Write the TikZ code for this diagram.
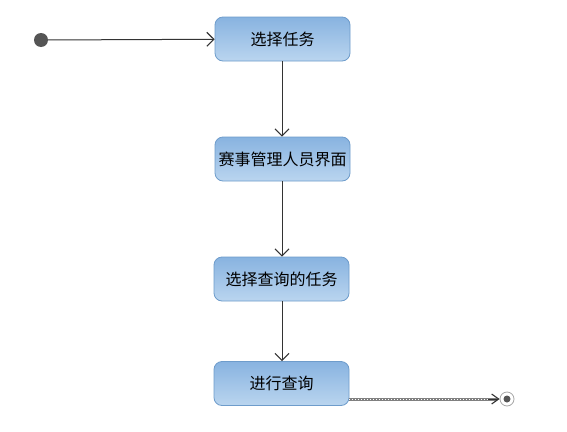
\documentclass[tikz,border=0pt]{standalone}
\usepackage{fontspec}
\newfontfamily\cjk{Noto Sans CJK SC}
\usetikzlibrary{arrows.meta}
\definecolor{boxtop}{HTML}{88B3E0}
\definecolor{boxbot}{HTML}{BAD5EF}
\definecolor{boxline}{HTML}{6E9CCB}
\definecolor{dotc}{HTML}{555555}
\begin{document}
\begin{tikzpicture}[x=1pt,y=-1pt,
  statebox/.style={draw=boxline,line width=0.8pt,rounded corners=8pt,top color=boxtop,bottom color=boxbot,
    minimum width=135pt,minimum height=44pt,inner sep=0pt,font=\cjk\fontsize{16}{18}\selectfont},
  flow/.style={draw=black!80,line width=1pt,-{Straight Barb[length=7pt,width=14pt,line width=1.1pt]}}]
\useasboundingbox (0,0) rectangle (567,431);
\fill[white] (0,0) rectangle (567,431);
\node[circle,fill=dotc,minimum size=14pt,inner sep=0pt] (init) at (41,40) {};
\node[statebox] (s1) at (282.5,39) {选择任务};
\node[statebox] (s2) at (282.5,159) {赛事管理人员界面};
\node[statebox] (s3) at (281.5,279) {选择查询的任务};
\node[statebox] (s4) at (281.5,383.5) {进行查询};
\node[circle,draw=gray!70,line width=0.8pt,fill=white,minimum size=14pt,inner sep=0pt] (fin) at (507,399) {};
\fill[dotc] (fin.center) circle (3.5pt);
\draw[flow] (init) -- (s1);
\draw[flow] (s1.south -| 282,0) -- (s2.north -| 282,0);
\draw[flow] (s2.south -| 282,0) -- (s3.north -| 282,0);
\draw[flow] (s3.south -| 282,0) -- (s4.north -| 282,0);
\coordinate (f0) at (s4.east |- fin);
\draw[draw=gray,line width=3pt] (f0) -- ([xshift=-3pt]fin.west);
\draw[draw=white,line width=1pt,dotted] (f0) -- ([xshift=-3pt]fin.west);
\draw[draw=black!80,line width=1pt,-{Straight Barb[length=7pt,width=10pt,line width=1.1pt]}] ([xshift=-12pt]fin.west) -- (fin.west);
\end{tikzpicture}
\end{document}
